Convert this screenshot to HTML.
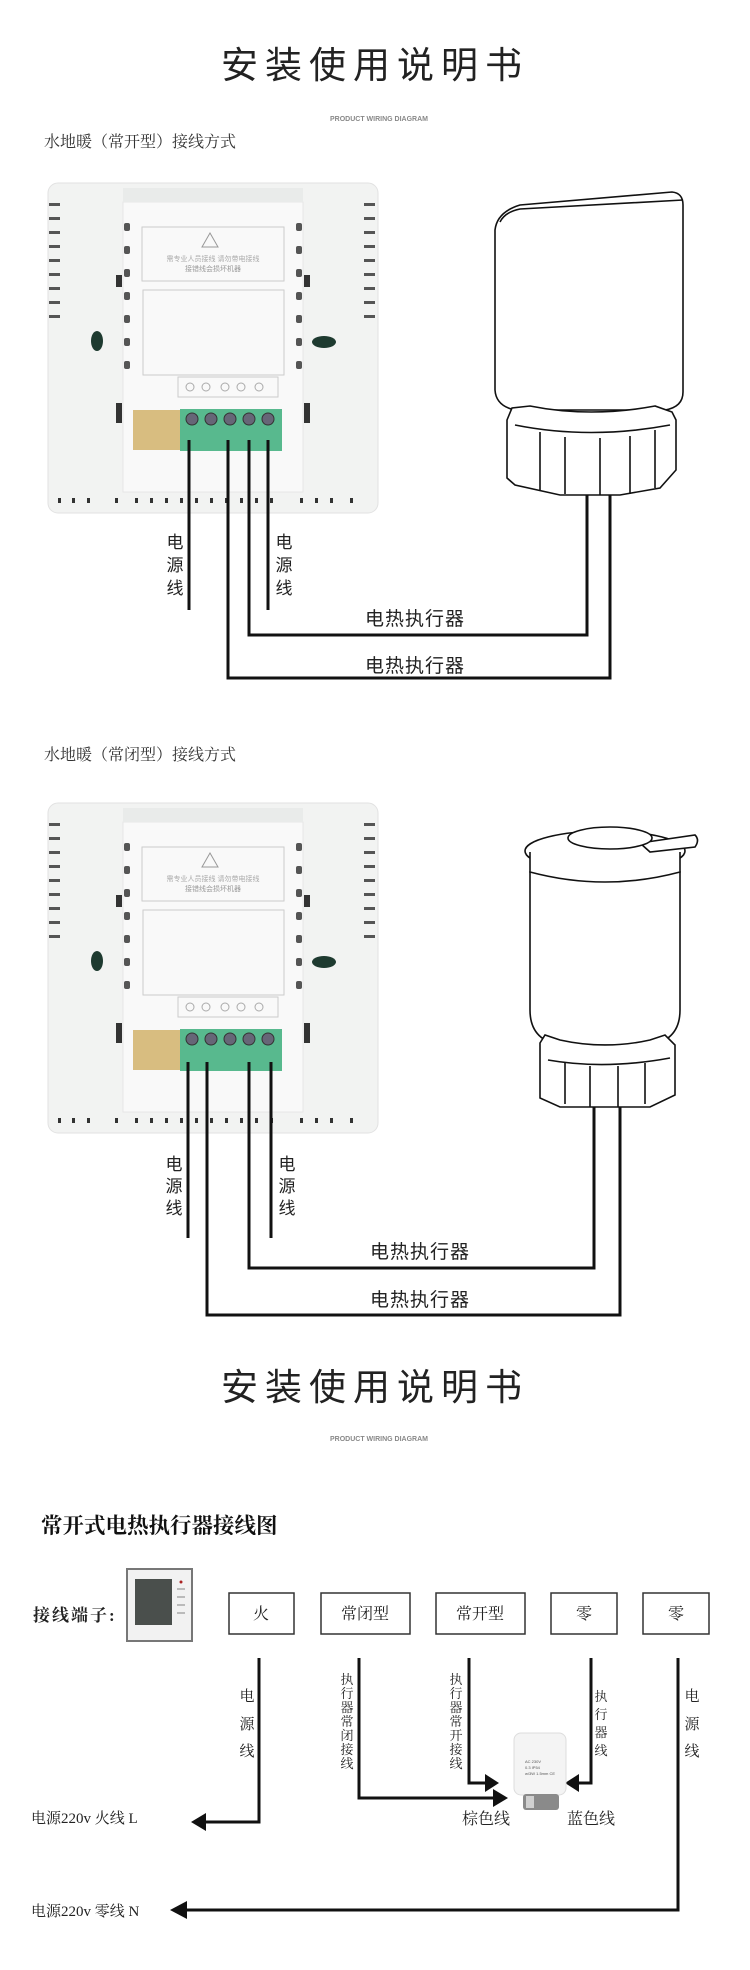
<!DOCTYPE html>
<html><head><meta charset="utf-8"><style>
html,body{margin:0;padding:0;background:#fff;}
svg{display:block}
.t{font-family:"Liberation Sans","Noto Sans CJK SC",sans-serif;}
.s{font-family:"Liberation Serif","Noto Serif CJK SC",serif;}
</style></head><body>
<svg width="750" height="1970" viewBox="0 0 750 1970" xmlns="http://www.w3.org/2000/svg">
<defs>
<g id="thermo">
  <rect x="48" y="0" width="330" height="330" rx="10" fill="#f2f3f2" stroke="#e2e2e2"/>
  <rect x="123" y="19" width="180" height="290" fill="#f9f9f9" stroke="#e6e6e6"/>
  <rect x="123" y="5" width="180" height="14" fill="#e9ebea"/>
  <g fill="#555">
    <rect x="49" y="20" width="11" height="3"/><rect x="49" y="34" width="11" height="3"/><rect x="49" y="48" width="11" height="3"/><rect x="49" y="62" width="11" height="3"/><rect x="49" y="76" width="11" height="3"/><rect x="49" y="90" width="11" height="3"/><rect x="49" y="104" width="11" height="3"/><rect x="49" y="118" width="11" height="3"/><rect x="49" y="132" width="11" height="3"/>
    <rect x="364" y="20" width="11" height="3"/><rect x="364" y="34" width="11" height="3"/><rect x="364" y="48" width="11" height="3"/><rect x="364" y="62" width="11" height="3"/><rect x="364" y="76" width="11" height="3"/><rect x="364" y="90" width="11" height="3"/><rect x="364" y="104" width="11" height="3"/><rect x="364" y="118" width="11" height="3"/><rect x="364" y="132" width="11" height="3"/>
    <rect x="124" y="40" width="6" height="8" rx="2"/><rect x="124" y="63" width="6" height="8" rx="2"/><rect x="124" y="86" width="6" height="8" rx="2"/><rect x="124" y="109" width="6" height="8" rx="2"/><rect x="124" y="132" width="6" height="8" rx="2"/><rect x="124" y="155" width="6" height="8" rx="2"/><rect x="124" y="178" width="6" height="8" rx="2"/>
    <rect x="296" y="40" width="6" height="8" rx="2"/><rect x="296" y="63" width="6" height="8" rx="2"/><rect x="296" y="86" width="6" height="8" rx="2"/><rect x="296" y="109" width="6" height="8" rx="2"/><rect x="296" y="132" width="6" height="8" rx="2"/><rect x="296" y="155" width="6" height="8" rx="2"/><rect x="296" y="178" width="6" height="8" rx="2"/>
  </g>
  <ellipse cx="97" cy="158" rx="6" ry="10" fill="#1e3a30"/>
  <ellipse cx="324" cy="159" rx="12" ry="6" fill="#1e3a30"/>
  <rect x="116" y="92" width="6" height="12" fill="#333"/><rect x="304" y="92" width="6" height="12" fill="#333"/>
  <rect x="116" y="220" width="6" height="20" fill="#333"/><rect x="304" y="220" width="6" height="20" fill="#333"/>
  <rect x="142" y="44" width="142" height="54" fill="none" stroke="#ccc"/>
  <path d="M210 50 L202 64 L218 64 Z" fill="none" stroke="#999"/>
  <text x="213" y="78" font-size="7" fill="#aaa" text-anchor="middle" class="t">需专业人员接线  请勿带电接线</text>
  <text x="213" y="88" font-size="7" fill="#999" text-anchor="middle" class="t">接错线会损坏机器</text>
  <rect x="143" y="107" width="141" height="85" fill="none" stroke="#ccc"/>
  <rect x="178" y="194" width="100" height="20" fill="none" stroke="#ccc"/>
  <g fill="none" stroke="#aaa"><circle cx="190" cy="204" r="4"/><circle cx="206" cy="204" r="4"/><circle cx="225" cy="204" r="4"/><circle cx="241" cy="204" r="4"/><circle cx="259" cy="204" r="4"/></g>
  <rect x="133" y="227" width="47" height="40" fill="#d8bd80"/>
  <rect x="180" y="226" width="102" height="42" fill="#58b98e"/>
  <g fill="#667" stroke="#333"><circle cx="192" cy="236" r="6"/><circle cx="211" cy="236" r="6"/><circle cx="230" cy="236" r="6"/><circle cx="249" cy="236" r="6"/><circle cx="268" cy="236" r="6"/></g>
  <g fill="#333"><rect x="58" y="315" width="3" height="5"/><rect x="72" y="315" width="3" height="5"/><rect x="87" y="315" width="3" height="5"/><rect x="115" y="315" width="3" height="5"/><rect x="135" y="315" width="3" height="5"/><rect x="150" y="315" width="3" height="5"/><rect x="165" y="315" width="3" height="5"/><rect x="180" y="315" width="3" height="5"/><rect x="195" y="315" width="3" height="5"/><rect x="210" y="315" width="3" height="5"/><rect x="225" y="315" width="3" height="5"/><rect x="240" y="315" width="3" height="5"/><rect x="255" y="315" width="3" height="5"/><rect x="270" y="315" width="3" height="5"/><rect x="300" y="315" width="3" height="5"/><rect x="315" y="315" width="3" height="5"/><rect x="330" y="315" width="3" height="5"/><rect x="350" y="315" width="3" height="5"/></g>
</g>
</defs>

<!-- Title 1 -->
<text x="375" y="78" font-size="37" letter-spacing="7" text-anchor="middle" fill="#222" class="t">安装使用说明书</text>
<text x="379" y="121" font-size="7" text-anchor="middle" fill="#888" class="t" font-weight="bold">PRODUCT WIRING DIAGRAM</text>
<text x="44" y="147" font-size="16" fill="#333" class="s">水地暖（常开型）接线方式</text>

<use href="#thermo" transform="translate(0,183)"/>
<!-- actuator 1 -->
<g fill="#fff" stroke="#111" stroke-width="1.6">
  <path d="M495 230 Q497 212 520 205 L672 192 Q683 193 683 205 L683 392 Q683 407 665 410 L515 410 Q496 406 495 390 Z"/>
  <path d="M500 222 Q505 212 520 209 L683 200" fill="none"/>
  <path d="M507 420 L512 408 L530 406 Q590 418 655 406 L672 412 L676 420 L676 470 L660 488 L620 495 L560 495 L515 485 L507 478 Z"/>
  <path d="M515 425 Q590 440 670 425" fill="none"/>
  <path d="M540 432 L540 490 M565 437 L565 494 M600 438 L600 495 M630 436 L630 494 M655 430 L655 488" fill="none"/>
</g>
<g stroke="#111" stroke-width="3" fill="none">
  <path d="M189 440 L189 610"/><path d="M268 440 L268 610"/>
  <path d="M249 440 L249 635 L587 635 L587 495"/>
  <path d="M228 440 L228 678 L610 678 L610 495"/>
</g>
<g font-size="17" fill="#222" class="t" text-anchor="middle">
  <text x="175" y="548">电</text><text x="175" y="571">源</text><text x="175" y="594">线</text>
  <text x="284" y="548">电</text><text x="284" y="571">源</text><text x="284" y="594">线</text>
</g>
<text x="365" y="625" font-size="19" fill="#222" class="t" letter-spacing="1">电热执行器</text>
<text x="365" y="672" font-size="19" fill="#222" class="t" letter-spacing="1">电热执行器</text>

<!-- Section 2 -->
<text x="44" y="760" font-size="16" fill="#333" class="s">水地暖（常闭型）接线方式</text>
<use href="#thermo" transform="translate(0,803)"/>
<g fill="#fff" stroke="#111" stroke-width="1.6">
  <path d="M530 872 L530 1010 Q530 1040 560 1045 L650 1045 Q680 1040 680 1010 L680 872 Z"/>
  <ellipse cx="605" cy="851" rx="80" ry="20"/>
  <path d="M530 852 L530 872 Q605 892 680 872 L680 852" />
  <path d="M640 843 L695 835 Q700 840 695 847 L650 852 Z"/>
  <ellipse cx="610" cy="838" rx="42" ry="11"/>
  <path d="M540 1043 L545 1035 L560 1040 Q605 1050 650 1040 L665 1035 L675 1045 L675 1095 L650 1107 L560 1107 L540 1098 Z"/>
  <path d="M548 1060 Q605 1070 670 1058" fill="none"/>
  <path d="M565 1063 L565 1104 M590 1066 L590 1107 M618 1066 L618 1107 M645 1063 L645 1104" fill="none"/>
</g>
<g stroke="#111" stroke-width="3" fill="none">
  <path d="M188 1062 L188 1238"/><path d="M271 1062 L271 1238"/>
  <path d="M249 1062 L249 1268 L594 1268 L594 1107"/>
  <path d="M207 1062 L207 1315 L620 1315 L620 1107"/>
</g>
<g font-size="17" fill="#222" class="t" text-anchor="middle">
  <text x="174" y="1170">电</text><text x="174" y="1192">源</text><text x="174" y="1214">线</text>
  <text x="287" y="1170">电</text><text x="287" y="1192">源</text><text x="287" y="1214">线</text>
</g>
<text x="370" y="1258" font-size="19" fill="#222" class="t" letter-spacing="1">电热执行器</text>
<text x="370" y="1306" font-size="19" fill="#222" class="t" letter-spacing="1">电热执行器</text>

<!-- Title 2 -->
<text x="375" y="1400" font-size="37" letter-spacing="7" text-anchor="middle" fill="#222" class="t">安装使用说明书</text>
<text x="379" y="1441" font-size="7" text-anchor="middle" fill="#888" class="t" font-weight="bold">PRODUCT WIRING DIAGRAM</text>

<!-- Section 3 -->
<text x="41" y="1533" font-size="21.5" font-weight="bold" fill="#111" class="s">常开式电热执行器接线图</text>
<text x="33" y="1621" font-size="17" font-weight="bold" fill="#222" class="s" letter-spacing="2">接线端子:</text>
<rect x="127" y="1569" width="65" height="72" fill="#f2f2f2" stroke="#777" stroke-width="2"/>
<rect x="135" y="1579" width="37" height="46" fill="#4a4f4c"/>
<g fill="#bbb"><rect x="177" y="1588" width="8" height="2"/><rect x="177" y="1596" width="8" height="2"/><rect x="177" y="1604" width="8" height="2"/><rect x="177" y="1612" width="8" height="2"/></g>
<circle cx="181" cy="1582" r="1.5" fill="#a22"/>
<g fill="#fff" stroke="#333" stroke-width="1.5">
  <rect x="229" y="1593" width="65" height="41"/>
  <rect x="321" y="1593" width="89" height="41"/>
  <rect x="436" y="1593" width="89" height="41"/>
  <rect x="551" y="1593" width="66" height="41"/>
  <rect x="643" y="1593" width="66" height="41"/>
</g>
<g font-size="16" fill="#222" class="s" text-anchor="middle">
  <text x="261" y="1619">火</text><text x="365" y="1619">常闭型</text><text x="480" y="1619">常开型</text><text x="584" y="1619">零</text><text x="676" y="1619">零</text>
</g>
<g stroke="#111" stroke-width="3" fill="none">
  <path d="M259 1658 L259 1822 L204 1822"/>
  <path d="M359 1658 L359 1798 L494 1798"/>
  <path d="M469 1658 L469 1783 L486 1783"/>
  <path d="M591 1658 L591 1783 L578 1783"/>
  <path d="M678 1658 L678 1910 L186 1910"/>
</g>
<g fill="#111">
  <path d="M191 1822 L206 1813 L206 1831 Z"/>
  <path d="M508 1798 L493 1789 L493 1807 Z"/>
  <path d="M499 1783 L485 1774 L485 1792 Z"/>
  <path d="M565 1783 L579 1774 L579 1792 Z"/>
  <path d="M170 1910 L187 1901 L187 1919 Z"/>
</g>
<!-- small actuator photo -->
<rect x="514" y="1733" width="52" height="62" rx="7" fill="#f4f4f4" stroke="#ddd"/>
<rect x="523" y="1794" width="36" height="16" rx="3" fill="#8a8a8a"/>
<rect x="526" y="1796" width="8" height="12" fill="#d0d0d0"/>
<text x="525" y="1763" font-size="4" fill="#555" class="t">AC 230V</text>
<text x="525" y="1769" font-size="4" fill="#555" class="t">0.3 IP54</text>
<text x="525" y="1775" font-size="4" fill="#555" class="t">w/3W 1.5mm CE</text>
<g font-size="15" fill="#222" class="s" text-anchor="middle">
  <text x="247" y="1701">电</text><text x="247" y="1729">源</text><text x="247" y="1756">线</text>
  <text x="692" y="1701">电</text><text x="692" y="1729">源</text><text x="692" y="1756">线</text>
</g>
<g font-size="13" fill="#222" class="s" text-anchor="middle">
  <text x="347" y="1684">执</text><text x="347" y="1698">行</text><text x="347" y="1712">器</text><text x="347" y="1726">常</text><text x="347" y="1740">闭</text><text x="347" y="1754">接</text><text x="347" y="1768">线</text>
  <text x="456" y="1684">执</text><text x="456" y="1698">行</text><text x="456" y="1712">器</text><text x="456" y="1726">常</text><text x="456" y="1740">开</text><text x="456" y="1754">接</text><text x="456" y="1768">线</text>
  <text x="601" y="1701">执</text><text x="601" y="1719">行</text><text x="601" y="1737">器</text><text x="601" y="1755">线</text>
</g>
<text x="462" y="1824" font-size="16" fill="#222" class="s">棕色线</text>
<text x="567" y="1824" font-size="16" fill="#222" class="s">蓝色线</text>
<text x="31" y="1823" font-size="15" fill="#222" class="s">电源220v 火线 L</text>
<text x="31" y="1916" font-size="15" fill="#222" class="s">电源220v 零线 N</text>
</svg>
</body></html>
